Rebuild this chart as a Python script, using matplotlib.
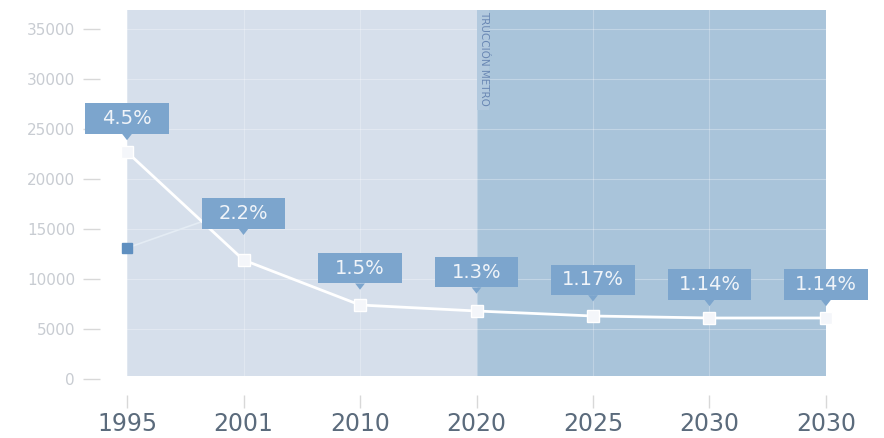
import matplotlib.pyplot as plt
import numpy as np
from matplotlib.offsetbox import AnnotationBbox, DrawingArea
from matplotlib.patches import Polygon, Rectangle
from matplotlib.text import Text

# Data
years = ["1995", "2001", "2010", "2020", "2025", "2030", "2030"]
values = [22700, 11900, 7400, 6800, 6300, 6100, 6100]
rates = ["4.5%", "2.2%", "1.5%", "1.3%", "1.17%", "1.14%", "1.14%"]
second_values = [13100, 17200]
yticks = [0, 5000, 10000, 15000, 20000, 25000, 30000, 35000]
split_label = "TRUCCIÓN METRO"

# Vertical gap (points) between each point and its label pointer
label_gap = [8.5, 18, 11, 12.5, 10.5, 8.5, 8.5]

x = np.arange(len(years))
split = years.index("2020")

fig = plt.figure(figsize=(8.84, 4.38), dpi=100)
ax = fig.add_axes([100 / 884, 43 / 438, 784 / 884, 395 / 438])
ax.set_xlim(-0.232, len(years) - 1 + 0.498)
ax.set_ylim(-1600, 37900)

# Background bands: before and after the split year
ax.fill_between([x[0], x[split]], 300, 36900, color="#d6dfeb", lw=0, zorder=0)
ax.fill_between([x[split], x[-1]], 300, 36900, color="#a9c4da", lw=0, zorder=0)

# Faint grid inside the bands
for t in yticks[1:]:
    ax.plot([x[0], x[-1]], [t, t], color="white", alpha=0.3, lw=0.8, zorder=1)
for xi in x:
    ax.plot([xi, xi], [300, 36900], color="white", alpha=0.25, lw=0.8, zorder=1)

# Split marker text
ax.fill_between([x[split], x[split] + 0.11], 26900, 36900, color="#b2c9de",
                lw=0, zorder=1)
ax.text(x[split] + 0.02, 36800, split_label, rotation=270, va="top", ha="left",
        fontsize=7.5, color="#6a88b4", zorder=3)

# Secondary series (mostly hidden)
ax.plot(x[:2], second_values, color="#e4ecf4", lw=1.2, zorder=2)
ax.plot(x[0], second_values[0], marker="s", ms=7, color="#5f8fc0", zorder=3)

# Main series
ax.plot(x, values, color="white", lw=2, marker="s", ms=8,
        markerfacecolor="#f4f6fa", markeredgecolor="white", zorder=4)

# Rate labels: fixed-size boxes with a pointer underneath
box_w, box_h, tip_h = 60, 22, 4.5
box_color = "#7ca5cd"
for xi, v, r, gap in zip(x, values, rates, label_gap):
    da = DrawingArea(box_w, box_h + tip_h, 0, 0)
    da.add_artist(Rectangle((0, tip_h), box_w, box_h, fc=box_color, ec="none"))
    da.add_artist(Polygon([(box_w / 2 - 3.5, tip_h), (box_w / 2 + 3.5, tip_h),
                           (box_w / 2, 0)], closed=True, fc=box_color, ec="none"))
    da.add_artist(Text(box_w / 2, tip_h + box_h / 2, r, ha="center", va="center",
                       fontsize=14, color="#f0f4f9"))
    ab = AnnotationBbox(da, (xi, v), xybox=(0, gap), boxcoords="offset points",
                        box_alignment=(0.5, 0), frameon=False, pad=0, zorder=5)
    ax.add_artist(ab)

# Axes styling
for s in ax.spines.values():
    s.set_visible(False)
ax.set_yticks(yticks)
ax.set_yticklabels([str(t) for t in yticks])
ax.tick_params(axis="y", direction="out", length=12, width=1, color="#d8d8d8",
               labelcolor="#c8ccd2", labelsize=11, pad=6)
ax.set_xticks(x)
ax.set_xticklabels(years)
ax.tick_params(axis="x", direction="out", length=9, width=1, color="#d8d8d8",
               labelcolor="#5b6b7c", labelsize=17, pad=3)

fig.savefig("out.png", dpi=100)
